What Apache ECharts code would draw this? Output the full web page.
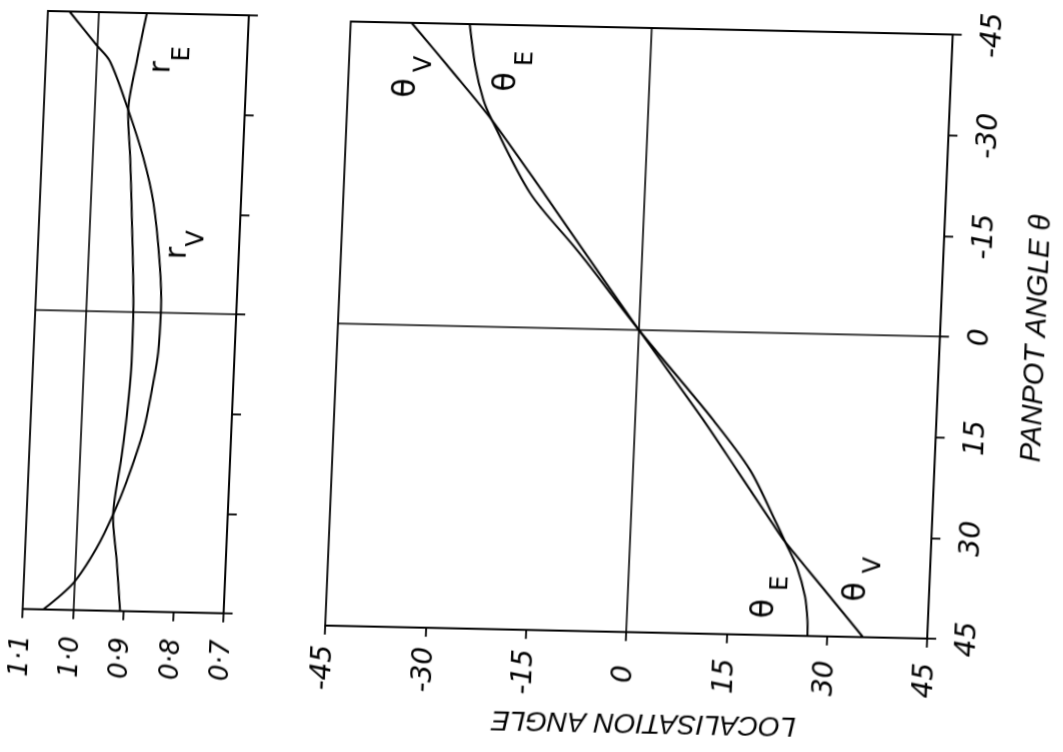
<!DOCTYPE html>
<html>
<head>
<meta charset="utf-8">
<script src="https://cdn.jsdelivr.net/npm/echarts@6/dist/echarts.min.js"></script>
<style>
html,body{margin:0;padding:0;background:#fff;overflow:hidden}
#c{width:1063px;height:752px;transform-origin:638.75px 328.5px;transform:matrix(1,0.0216,-0.0423,1,0,0);}
</style>
</head>
<body>
<div id="c"></div>
<script>
// ---- tick labels ----
const angleTicks = [-45, -30, -15, 0, 15, 30, 45];
const panTickLabels = ['-45', '-30', '-15', '0', '15', '30', '45'];
const locTickLabels = ['-45', '-30', '-15', '0', '15', '30', '45'];
const rTicks = [0.7, 0.8, 0.9, 1.0, 1.1];
const rTickLabels = ['0·7', '0·8', '0·9', '1·0', '1·1'];

// ---- left panel: vector magnitudes r_V, r_E against panpot angle ----
const rVPan = [-45, -40, -37.6, -30.4, -23.3, -16.5, -7.1, -0.5, 6.0, 10.4, 17.9, 25.5, 30.5, 35.6, 40.9, 45];
const rVVal = [1.057, 1.000, 0.972, 0.932, 0.898, 0.874, 0.856, 0.850, 0.852, 0.859, 0.875, 0.904, 0.928, 0.958, 1.001, 1.059];
const rEPan = [-45, -37.7, -30.4, -23.2, -15.7, -0.5, 7.4, 15.5, 21.7, 30.5, 37.4, 45];
const rEVal = [0.903, 0.919, 0.932, 0.924, 0.917, 0.905, 0.904, 0.909, 0.916, 0.928, 0.917, 0.906];

// ---- main panel: localisation angles theta_V, theta_E against panpot angle ----
const thVPan = [-45, -38.0, -30.8, -20.1, -12.2, 0, 13.2, 20.5, 28.4, 31.1, 37.7, 45];
const thVLoc = [-35.9, -29.6, -23.3, -15.1, -9.2, 0, 10.2, 15.5, 21.2, 23.2, 29.0, 35.4];
const thEPan = [-45, -38.7, -33.8, -30.8, -20.0, -12.2, -9.3, 0, 13.2, 20.5, 28.4, 31.1, 34.8, 39.2, 42.7, 45];
const thELoc = [-27.2, -26.1, -24.7, -23.3, -17.1, -10.2, -7.7, 0, 11.7, 17.5, 21.8, 23.2, 25.1, 26.5, 27.0, 27.1];

const INK = '#000';
function lookup(ticks, labels) {
  return function (v) {
    for (let i = 0; i < ticks.length; i++) if (Math.abs(v - ticks[i]) < 1e-6) return labels[i];
    return '';
  };
}
function pairs(xs, ys) { return xs.map((x, i) => [x, ys[i]]); }

const labelFont = { color: INK, fontFamily: 'DejaVu Sans', fontStyle: 'italic', fontSize: 28 };
const rLabelFont = { color: INK, fontFamily: 'DejaVu Sans', fontStyle: 'italic', fontSize: 26 };
const axisLine = { show: true, onZero: false, lineStyle: { color: INK, width: 1.8 } };
const axisTick = { show: true, inside: false, length: 9, lineStyle: { color: INK, width: 1.8 } };

const chart = echarts.init(document.getElementById('c'), null, { renderer: 'canvas' });

const zeroLine = { color: INK, width: 1.6, type: 'solid' };
function lineSeries(name, xi, data, marks) {
  const s = {
    name: name, type: 'line', xAxisIndex: xi, yAxisIndex: xi, data: data,
    smooth: 0.3, showSymbol: false, symbol: 'none', silent: true,
    lineStyle: { color: INK, width: 2 }, z: 3
  };
  if (marks) {
    s.markLine = { silent: true, symbol: ['none', 'none'], label: { show: false },
      lineStyle: zeroLine, data: marks, animation: false };
  }
  return s;
}

const option = {
  animation: false,
  backgroundColor: '#fff',
  grid: [
    { left: 35, top: 24, width: 201, height: 598, show: true, borderColor: INK, borderWidth: 1.8 },
    { left: 338, top: 28, width: 602, height: 604, show: true, borderColor: INK, borderWidth: 1.8 }
  ],
  xAxis: [
    { gridIndex: 0, type: 'value', min: 0.7, max: 1.1, interval: 0.1, inverse: true, position: 'bottom',
      axisLine: axisLine, axisTick: axisTick, splitLine: { show: false },
      axisLabel: Object.assign({ rotate: 90, align: 'center', verticalAlign: 'middle', margin: 47,
        formatter: lookup(rTicks, rTickLabels) }, rLabelFont) },
    { gridIndex: 1, type: 'value', min: -45, max: 45, interval: 15, position: 'bottom',
      axisLine: axisLine, axisTick: axisTick, splitLine: { show: false },
      name: 'LOCALISATION ANGLE', nameLocation: 'middle', nameRotate: 180, nameGap: 76,
      nameTextStyle: { color: INK, fontFamily: 'Liberation Sans', fontStyle: 'italic', fontSize: 28, padding: [0, 42, 0, 0] },
      axisLabel: Object.assign({ rotate: 90, align: 'center', verticalAlign: 'middle', margin: 42,
        formatter: lookup(angleTicks, locTickLabels) }, labelFont) }
  ],
  yAxis: [
    { gridIndex: 0, type: 'value', min: -45, max: 45, interval: 15, inverse: true, position: 'right',
      axisLine: axisLine, axisTick: axisTick, splitLine: { show: false }, axisLabel: { show: false } },
    { gridIndex: 1, type: 'value', min: -45, max: 45, interval: 15, inverse: true, position: 'right',
      axisLine: axisLine, axisTick: axisTick, splitLine: { show: false },
      name: 'PANPOT ANGLE θ', nameLocation: 'middle', nameRotate: 90, nameGap: 82,
      nameTextStyle: { color: INK, fontFamily: 'Liberation Sans', fontStyle: 'italic', fontSize: 29 },
      axisLabel: Object.assign({ rotate: 90, align: 'center', verticalAlign: 'middle', margin: 41,
        formatter: lookup(angleTicks, panTickLabels) }, labelFont) }
  ],
  series: [
    lineSeries('r_V', 0, pairs(rVVal, rVPan), [{ xAxis: 1.0 }, { yAxis: 0 }]),
    lineSeries('r_E', 0, pairs(rEVal, rEPan)),
    lineSeries('θ_V', 1, pairs(thVLoc, thVPan), [{ xAxis: 0 }, { yAxis: 0 }]),
    lineSeries('θ_E', 1, pairs(thELoc, thEPan))
  ]
};
chart.setOption(option);

// curve labels, anchored in data coordinates of each panel
const annotations = [
  { grid: 1, at: [-36.2, -35.3], main: 'θ', sub: 'V', mainSize: 32, off: [17, -24] },
  { grid: 1, at: [-21.3, -36.5], main: 'θ', sub: 'E', mainSize: 32, off: [18, -24] },
  { grid: 1, at: [20.6, 41.1], main: 'θ', sub: 'E', mainSize: 32, off: [15, -26] },
  { grid: 1, at: [34.2, 38.3], main: 'θ', sub: 'V', mainSize: 32, off: [16, -27] },
  { grid: 0, at: [0.868, -36.9], main: 'r', sub: 'E', mainSize: 30, off: [20, -14] },
  { grid: 0, at: [0.820, -9.0], main: 'r', sub: 'V', mainSize: 30, off: [18, -15] }
];
const elems = [];
annotations.forEach(a => {
  const p = chart.convertToPixel({ gridIndex: a.grid }, a.at);
  elems.push({ type: 'text', x: p[0], y: p[1], rotation: Math.PI / 2, silent: true, z: 10,
    style: { text: a.main, fill: INK, fontFamily: 'DejaVu Sans', fontSize: a.mainSize, align: 'center', verticalAlign: 'middle' } });
  elems.push({ type: 'text', x: p[0] + a.off[0], y: p[1] + a.off[1], rotation: Math.PI / 2, silent: true, z: 10,
    style: { text: a.sub, fill: INK, fontFamily: 'DejaVu Sans', fontSize: 24, align: 'center', verticalAlign: 'middle' } });
});
chart.setOption({ graphic: elems });
</script>
</body>
</html>
